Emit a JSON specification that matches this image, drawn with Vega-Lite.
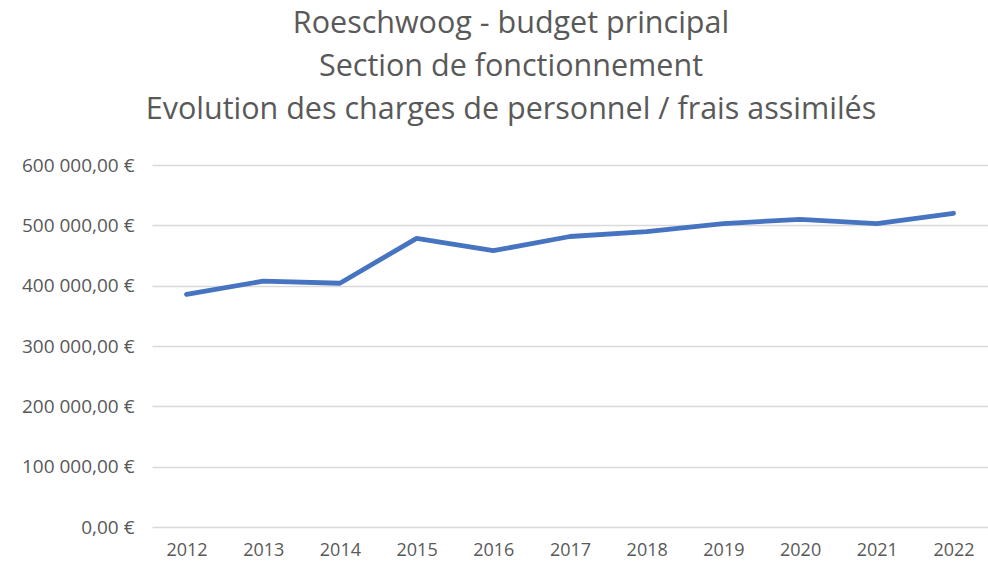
{
  "$schema": "https://vega.github.io/schema/vega-lite/v6.json",
  "width": 836,
  "height": 362,
  "autosize": "none",
  "padding": {"left": 152, "top": 165, "right": 0, "bottom": 43},
  "background": "white",
  "title": {
    "text": ["Roeschwoog - budget principal", "Section de fonctionnement", "Evolution des charges de personnel / frais assimilés"],
    "font": "Open Sans",
    "fontSize": 30.5,
    "fontWeight": "normal",
    "color": "#595959",
    "lineHeight": 43,
    "anchor": "middle",
    "dx": -59,
    "offset": 31
  },
  "data": {
    "values": [
      {"annee": "2012", "montant": 385500},
      {"annee": "2013", "montant": 407500},
      {"annee": "2014", "montant": 404000},
      {"annee": "2015", "montant": 478500},
      {"annee": "2016", "montant": 458000},
      {"annee": "2017", "montant": 481500},
      {"annee": "2018", "montant": 489500},
      {"annee": "2019", "montant": 503000},
      {"annee": "2020", "montant": 510000},
      {"annee": "2021", "montant": 503000},
      {"annee": "2022", "montant": 520000}
    ]
  },
  "mark": {"type": "line", "color": "#4674C0", "strokeWidth": 4.8, "strokeCap": "round", "strokeJoin": "round"},
  "encoding": {
    "x": {
      "field": "annee",
      "type": "ordinal",
      "scale": {"type": "point", "padding": 0.45},
      "axis": {
        "title": null,
        "labelAngle": 0,
        "domain": false,
        "ticks": false,
        "grid": false,
        "labelFont": "Open Sans",
        "labelFontSize": 18,
        "labelColor": "#595959",
        "labelPadding": 14
      }
    },
    "y": {
      "field": "montant",
      "type": "quantitative",
      "scale": {"domain": [0, 600000]},
      "axis": {
        "title": null,
        "values": [0, 100000, 200000, 300000, 400000, 500000, 600000],
        "labelExpr": "datum.value == 0 ? '0,00 €' : format(datum.value / 1000, 'd') + ' 000,00 €'",
        "domain": false,
        "ticks": false,
        "grid": true,
        "gridColor": "#d9d9d9",
        "gridWidth": 1.3,
        "labelFont": "Open Sans",
        "labelFontSize": 19,
        "labelColor": "#595959",
        "labelPadding": 18
      }
    }
  },
  "config": {
    "view": {"stroke": null}
  }
}
